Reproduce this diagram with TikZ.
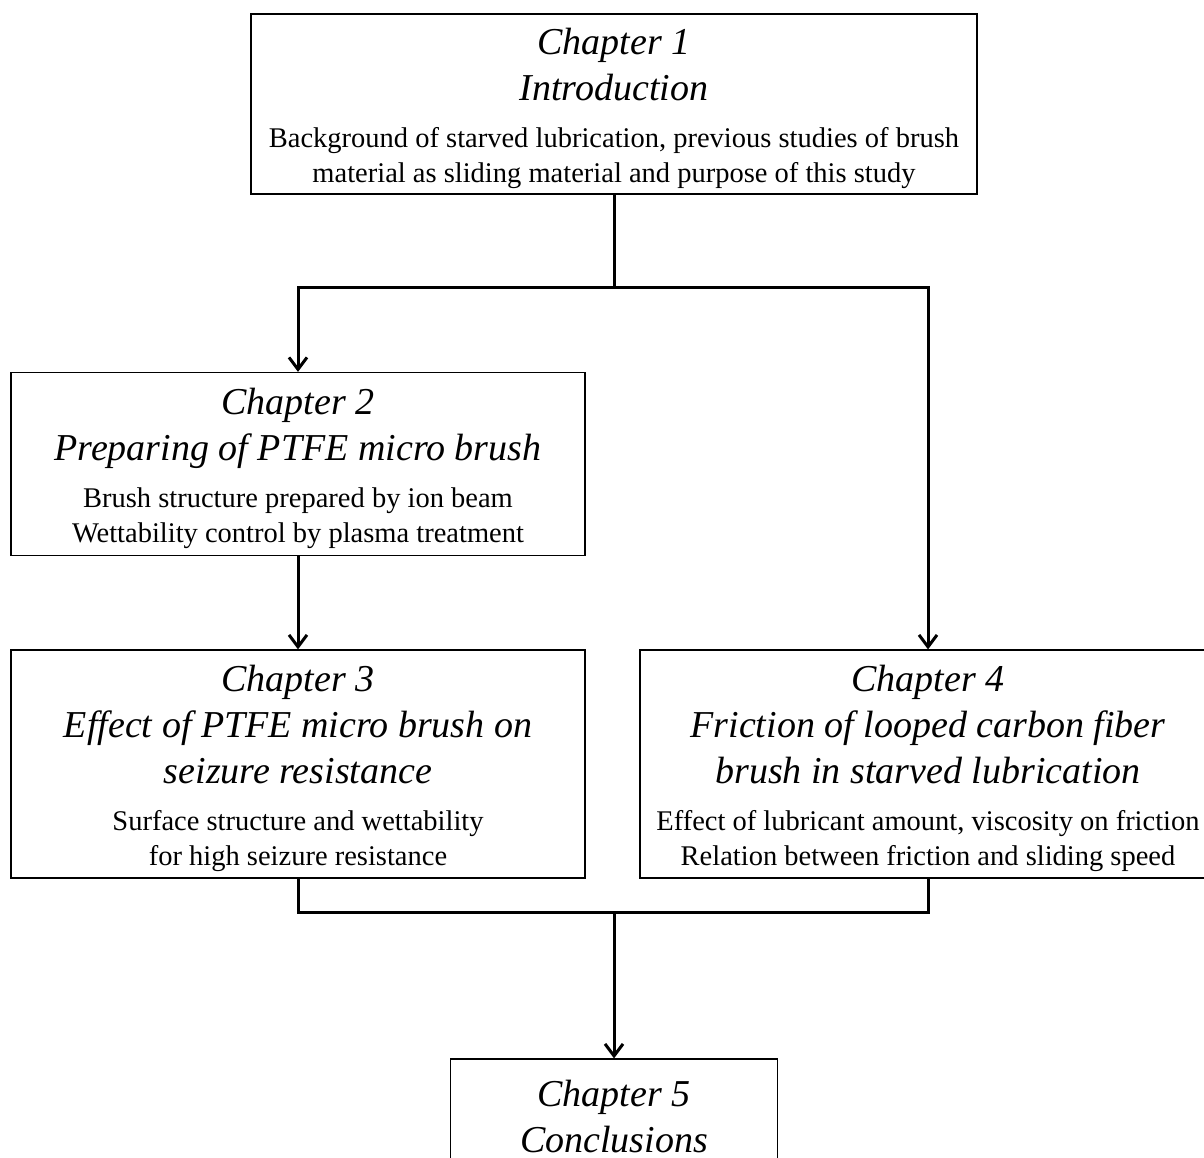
\documentclass[tikz,border=0pt]{standalone}
\usepackage{fontspec}
\setmainfont{Liberation Serif}
\usetikzlibrary{arrows.meta}

\newcommand{\chaptitle}{\fontsize{38}{46}\selectfont\itshape\spaceskip=0pt\xspaceskip=0pt\relax}
\newcommand{\chaplift}{\rule{0pt}{36pt}}
\newcommand{\chapnote}[1]{\par\vspace{12pt}\fontsize{28.5}{35}\selectfont\upshape
  \spaceskip=0pt\xspaceskip=0pt\relax #1\par}

\begin{document}
\begin{tikzpicture}[x=1pt,y=-1pt]

      \useasboundingbox (0,0) rectangle (1204,1158);
      \clip (0,0) rectangle (1204,1158);

      \begin{scope}[every node/.style={draw, line width=1.2pt, align=flush center, inner sep=0pt}]
        \node[minimum width=726pt, minimum height=180pt, text width=720pt] (1) at (614,104)
          {\chaptitle\chaplift Chapter 1\\Introduction\chapnote
           {Background of starved lubrication, previous studies of brush\\
            material as sliding material and purpose of this study}};
        \node[minimum width=574pt, minimum height=183pt, text width=568pt] (2) at (298,464)
          {\chaptitle\chaplift Chapter 2\\Preparing of PTFE micro brush\chapnote
           {Brush structure prepared by ion beam\\
            Wettability control by plasma treatment}};
        \node[minimum width=574pt, minimum height=228pt, text width=568pt] (3) at (298,764)
          {\chaptitle\chaplift Chapter 3\\Effect of PTFE micro brush on\\seizure resistance\chapnote
           {Surface structure and wettability\\
            for high seizure resistance}};
        \node[minimum width=576pt, minimum height=228pt, text width=570pt] (4) at (928,764)
          {\chaptitle\chaplift Chapter 4\\Friction of looped carbon fiber\\brush in starved lubrication\chapnote
           {Effect of lubricant amount, viscosity on friction\\
            Relation between friction and sliding speed}};
        \node[minimum width=327pt, minimum height=116pt, text width=321pt] (5) at (614,1117)
          {\chaptitle Chapter 5\\Conclusions\par};
      \end{scope}

      \begin{scope}[line width=3pt, >={Straight Barb[length=12pt,width=18pt]}]
        \coordinate (split) at (614,287);
        \coordinate (merge) at (614,912);
        \draw[->] (1.south) -- (split) -| (2.north);
        \draw[->] (split) -| (4.north);
        \draw[->] (2) -- (3);
        \draw (3.south) |- (merge);
        \draw (4.south) |- (merge);
        \draw[->] (merge) -- (5.north);
      \end{scope}

    \end{tikzpicture}
\end{document}
